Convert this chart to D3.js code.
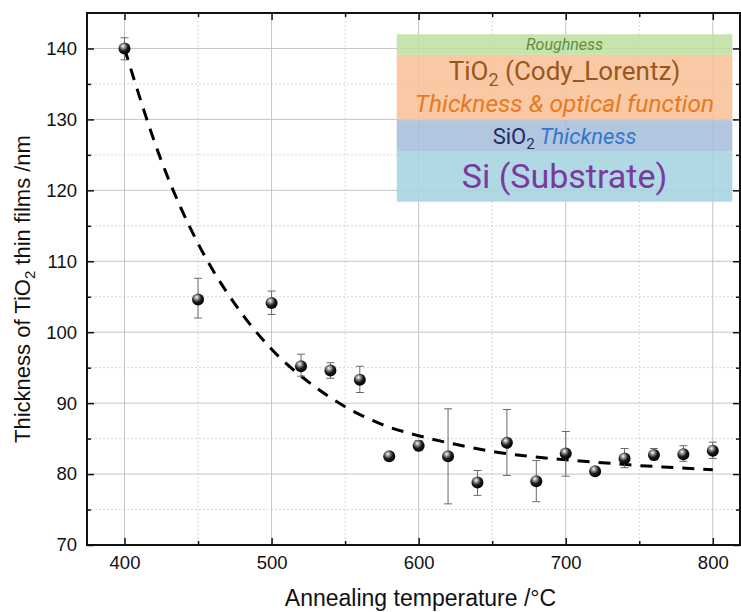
<!DOCTYPE html>
<html>
<head>
<meta charset="utf-8">
<script src="https://cdn.jsdelivr.net/npm/d3@7"></script>
<style>
  body { margin: 0; background: #fff; }
  svg text { font-family: "Liberation Sans", Arial, sans-serif; }
  .inset text { font-family: Roboto, "Noto Sans", sans-serif; }
</style>
</head>
<body>
<div id="chart"></div>
<script>
// measured thickness (nm) vs annealing temperature (°C)
const temps = [400, 450, 500, 520, 540, 560, 580, 600, 620, 640, 660, 680, 700, 720, 740, 760, 780, 800];
const thickness = [140.0, 104.6, 104.1, 95.2, 94.6, 93.3, 82.5, 84.0, 82.5, 78.8, 84.4, 79.0, 82.9, 80.4, 82.2, 82.7, 82.8, 83.3];
const errLow = [1.6, 2.6, 1.6, 1.4, 1.1, 1.8, 0.5, 0.7, 6.7, 1.8, 4.6, 2.9, 3.2, 0.3, 1.3, 0.7, 1.0, 1.1];
const errHigh = [1.5, 3.0, 1.7, 1.7, 1.1, 1.9, 0.5, 0.7, 6.7, 1.7, 4.7, 2.9, 3.1, 0.3, 1.4, 0.9, 1.2, 1.2];

// fitted decay curve
const fitTemps = [400, 425, 450, 475, 500, 525, 550, 575, 600, 625, 650, 675, 700, 725, 750, 775, 800];
const fitValues = [140, 124.2, 112.5, 104, 97.6, 93, 89.5, 87, 85.4, 84.2, 83.2, 82.5, 82.0, 81.6, 81.2, 80.9, 80.6];

const xTicks = [400, 500, 600, 700, 800];
const xMinor = [450, 550, 650, 750];
const yTicks = [70, 80, 90, 100, 110, 120, 130, 140];
const yMinor = [75, 85, 95, 105, 115, 125, 135];

// layer stack inset, boundaries in axis units
const layerTop = [142.0, 139.1, 129.9, 125.55];
const layerBottom = [139.1, 129.9, 125.55, 118.4];
const layerFill = ["#c0e0a2", "#f8c29a", "#a7bedb", "#a6d4e0"];

const margin = {top: 13, right: 1, bottom: 67, left: 87},
    width = 741 - margin.left - margin.right,
    height = 612 - margin.top - margin.bottom;

const svg = d3.select("#chart")
  .append("svg")
    .attr("width", 741)
    .attr("height", 612)
  .append("g")
    .attr("transform", `translate(${margin.left},${margin.top})`);

const x = d3.scaleLinear().domain([374.5, 818.5]).range([0, width]);
const y = d3.scaleLinear().domain([70, 145]).range([height, 0]);

// grid
svg.append("g").selectAll("line").data(xMinor).join("line")
  .attr("x1", d => x(d)).attr("x2", d => x(d)).attr("y1", 0).attr("y2", height)
  .attr("stroke", "#d8d8d8").attr("stroke-dasharray", "2,2");
svg.append("g").selectAll("line").data(yMinor).join("line")
  .attr("y1", d => y(d)).attr("y2", d => y(d)).attr("x1", 0).attr("x2", width)
  .attr("stroke", "#d8d8d8").attr("stroke-dasharray", "2,2");
svg.append("g").selectAll("line").data(xTicks).join("line")
  .attr("x1", d => x(d)).attr("x2", d => x(d)).attr("y1", 0).attr("y2", height)
  .attr("stroke", "#c4c4c4");
svg.append("g").selectAll("line").data(yTicks).join("line")
  .attr("y1", d => y(d)).attr("y2", d => y(d)).attr("x1", 0).attr("x2", width)
  .attr("stroke", "#c4c4c4");

// inset
const ins = svg.append("g").attr("class", "inset");
const insX0 = x(585.1), insX1 = x(813.3), insCx = (insX0 + insX1) / 2;
ins.selectAll("rect").data(layerTop).join("rect")
  .attr("x", insX0).attr("width", insX1 - insX0)
  .attr("y", d => y(d))
  .attr("height", (d, i) => y(layerBottom[i]) - y(d))
  .attr("fill", (d, i) => layerFill[i]).attr("opacity", 0.88);

ins.append("text").attr("x", insCx).attr("y", 37)
  .attr("text-anchor", "middle").attr("font-size", 16).attr("font-style", "italic")
  .attr("fill", "#5e8f40").text("Roughness");
const t1 = ins.append("text").attr("x", insCx).attr("y", 67)
  .attr("text-anchor", "middle").attr("font-size", 26).attr("fill", "#9a561c");
t1.append("tspan").text("TiO");
t1.append("tspan").attr("font-size", 18).attr("dy", 6).text("2");
t1.append("tspan").attr("dy", -6).text(" (Cody_Lorentz)");
ins.append("text").attr("x", insCx).attr("y", 99)
  .attr("text-anchor", "middle").attr("font-size", 24.5).attr("font-style", "italic")
  .attr("fill", "#e8791f").text("Thickness & optical function");
const t2 = ins.append("text").attr("x", insCx).attr("y", 131)
  .attr("text-anchor", "middle").attr("font-size", 22);
t2.append("tspan").attr("fill", "#1c2a66").text("SiO");
t2.append("tspan").attr("fill", "#1c2a66").attr("font-size", 15).attr("dy", 5).text("2");
t2.append("tspan").attr("fill", "#2f78cc").attr("font-style", "italic").attr("dy", -5).text(" Thickness");
ins.append("text").attr("x", insCx).attr("y", 175)
  .attr("text-anchor", "middle").attr("font-size", 34)
  .attr("fill", "#7a3aa0").text("Si (Substrate)");

// fit curve
svg.append("path")
  .datum(fitTemps.map((t, i) => ({t: t, v: fitValues[i]})))
  .attr("fill", "none")
  .attr("stroke", "black")
  .attr("stroke-width", 3)
  .attr("stroke-dasharray", "12,9")
  .attr("d", d3.line().curve(d3.curveMonotoneX).x(d => x(d.t)).y(d => y(d.v)));

// error bars
const pts = temps.map((t, i) => ({t: t, v: thickness[i], lo: thickness[i] - errLow[i], hi: thickness[i] + errHigh[i]}));
const eb = svg.append("g").attr("stroke", "#6a6a6a").attr("stroke-width", 1);
eb.selectAll(".v").data(pts).join("line")
  .attr("x1", d => x(d.t)).attr("x2", d => x(d.t)).attr("y1", d => y(d.lo)).attr("y2", d => y(d.hi));
eb.selectAll(".c1").data(pts).join("line")
  .attr("x1", d => x(d.t) - 4).attr("x2", d => x(d.t) + 4).attr("y1", d => y(d.hi)).attr("y2", d => y(d.hi));
eb.selectAll(".c2").data(pts).join("line")
  .attr("x1", d => x(d.t) - 4).attr("x2", d => x(d.t) + 4).attr("y1", d => y(d.lo)).attr("y2", d => y(d.lo));

// ball markers
const defs = d3.select("svg").append("defs");
const grad = defs.append("radialGradient").attr("id", "ball")
  .attr("cx", "40%").attr("cy", "35%").attr("r", "65%").attr("fx", "38%").attr("fy", "30%");
grad.append("stop").attr("offset", "0%").attr("stop-color", "#ffffff");
grad.append("stop").attr("offset", "25%").attr("stop-color", "#9a9a9a");
grad.append("stop").attr("offset", "60%").attr("stop-color", "#1a1a1a");
grad.append("stop").attr("offset", "100%").attr("stop-color", "#000");
svg.append("g").selectAll("circle").data(pts).join("circle")
  .attr("cx", d => x(d.t)).attr("cy", d => y(d.v)).attr("r", 6)
  .attr("fill", "url(#ball)");

// frame + ticks (inward)
svg.append("g").attr("transform", `translate(0,${height})`)
  .call(d3.axisBottom(x).tickValues(xTicks).tickSize(-7).tickPadding(11).tickFormat(d3.format("d")));
svg.append("g")
  .call(d3.axisTop(x).tickValues(xTicks).tickSize(-7).tickFormat(""));
svg.append("g")
  .call(d3.axisLeft(y).tickValues(yTicks).tickSize(-7).tickPadding(10).tickFormat(d3.format("d")));
svg.append("g").attr("transform", `translate(${width},0)`)
  .call(d3.axisRight(y).tickValues(yTicks).tickSize(-7).tickFormat(""));
svg.append("g").attr("transform", `translate(0,${height})`)
  .call(d3.axisBottom(x).tickValues(xMinor).tickSize(-4).tickFormat(""));
svg.append("g")
  .call(d3.axisTop(x).tickValues(xMinor).tickSize(-4).tickFormat(""));
svg.append("g")
  .call(d3.axisLeft(y).tickValues(yMinor).tickSize(-4).tickFormat(""));
svg.append("g").attr("transform", `translate(${width},0)`)
  .call(d3.axisRight(y).tickValues(yMinor).tickSize(-4).tickFormat(""));

svg.selectAll(".domain").remove();
svg.selectAll(".tick line").attr("stroke", "#111").attr("stroke-width", 1.5);
svg.selectAll(".tick text").attr("font-size", 18.5).attr("fill", "#111")
  .style("font-family", "'Liberation Sans', Arial, sans-serif");
svg.append("rect").attr("x", 0).attr("y", 0).attr("width", width).attr("height", height)
  .attr("fill", "none").attr("stroke", "#111").attr("stroke-width", 2);

// axis titles
svg.append("text")
  .attr("x", width / 2 + 7).attr("y", height + 61)
  .attr("text-anchor", "middle").attr("font-size", 23).attr("fill", "#111")
  .text("Annealing temperature /°C");
const yt = svg.append("text")
  .attr("transform", `translate(${-57},${height / 2 + 10}) rotate(-90)`)
  .attr("text-anchor", "middle").attr("font-size", 22).attr("fill", "#111");
yt.append("tspan").text("Thickness of TiO");
yt.append("tspan").attr("font-size", 15).attr("dy", 5).text("2");
yt.append("tspan").attr("dy", -5).text(" thin films /nm");
</script>
</body>
</html>
